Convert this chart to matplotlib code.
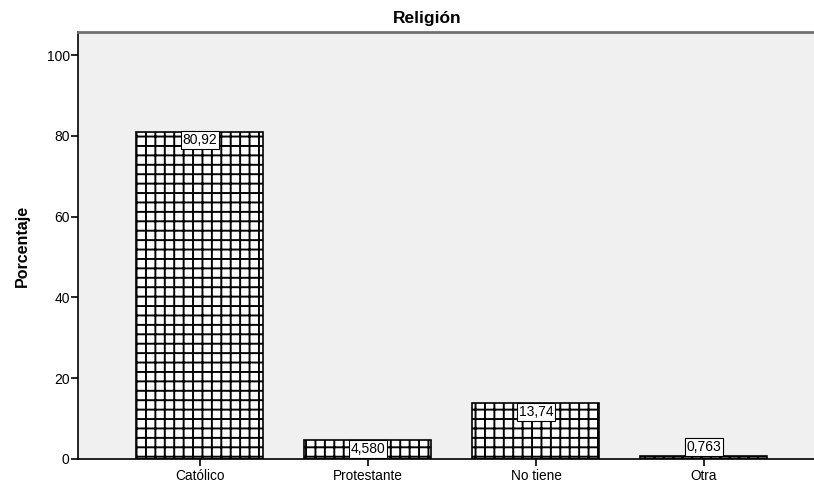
import matplotlib
matplotlib.use("Agg")
import matplotlib.pyplot as plt
import numpy as np

# hatch spacing depends on dpi, so render at 113 dpi and scale font sizes
DPI = 113
S = 100 / DPI

plt.rcParams["font.family"] = ["Liberation Sans", "DejaVu Sans"]
plt.rcParams["hatch.linewidth"] = 1.4 * S
plt.rcParams["hatch.color"] = "#111111"

categories = ["Católico", "Protestante", "No tiene", "Otra"]
percent = [80.92, 4.580, 13.74, 0.763]
value_labels = ["80,92", "4,580", "13,74", "0,763"]
yticks = [0, 20, 40, 60, 80, 100]

fig = plt.figure(figsize=(814 / DPI, 485 / DPI), dpi=DPI)
ax = fig.add_axes([78 / 814, 1 - 459 / 485, 1 - 78 / 814, (459 - 32) / 485])
ax.set_facecolor("#f0f0f0")

x = np.arange(len(categories))
ax.bar(x, percent, width=0.756, color="white", edgecolor="black",
       linewidth=1.2 * S, hatch="++")

for xi, val, lab in zip(x, percent, value_labels):
    if val > 3:
        y, va = val - 0.3, "top"
    else:
        y, va = val + 0.4, "bottom"
    ax.text(xi, y, lab, ha="center", va=va, fontsize=10 * S,
            bbox=dict(boxstyle="square,pad=0.15", facecolor="white",
                      edgecolor="black", linewidth=0.8 * S))

ax.set_xlim(-0.726, 3.655)
ax.set_ylim(0, 105.7)
ax.set_xticks(x)
ax.set_xticklabels(categories, fontsize=9.8 * S)
ax.set_yticks(yticks)
ax.set_yticklabels([str(t) for t in yticks], fontsize=10 * S)
ax.tick_params(axis="both", direction="out", length=5 * S, width=1.2 * S,
               color="black")
ax.tick_params(axis="x", pad=2 * S)
ax.tick_params(axis="y", pad=1 * S)

ax.spines["right"].set_visible(False)
ax.spines["left"].set_linewidth(1.2 * S)
ax.spines["bottom"].set_linewidth(1.2 * S)
ax.spines["top"].set_color("#707070")
ax.spines["top"].set_linewidth(2 * S)

ax.set_ylabel("Porcentaje", fontsize=11.5 * S, fontweight="bold",
              labelpad=12 * S)
fig.text(427 / 814, 1 - 18 / 485, "Religión", ha="center", va="center",
         fontsize=12.5 * S, fontweight="bold")

fig.savefig("out.png", dpi=DPI, facecolor="white")
